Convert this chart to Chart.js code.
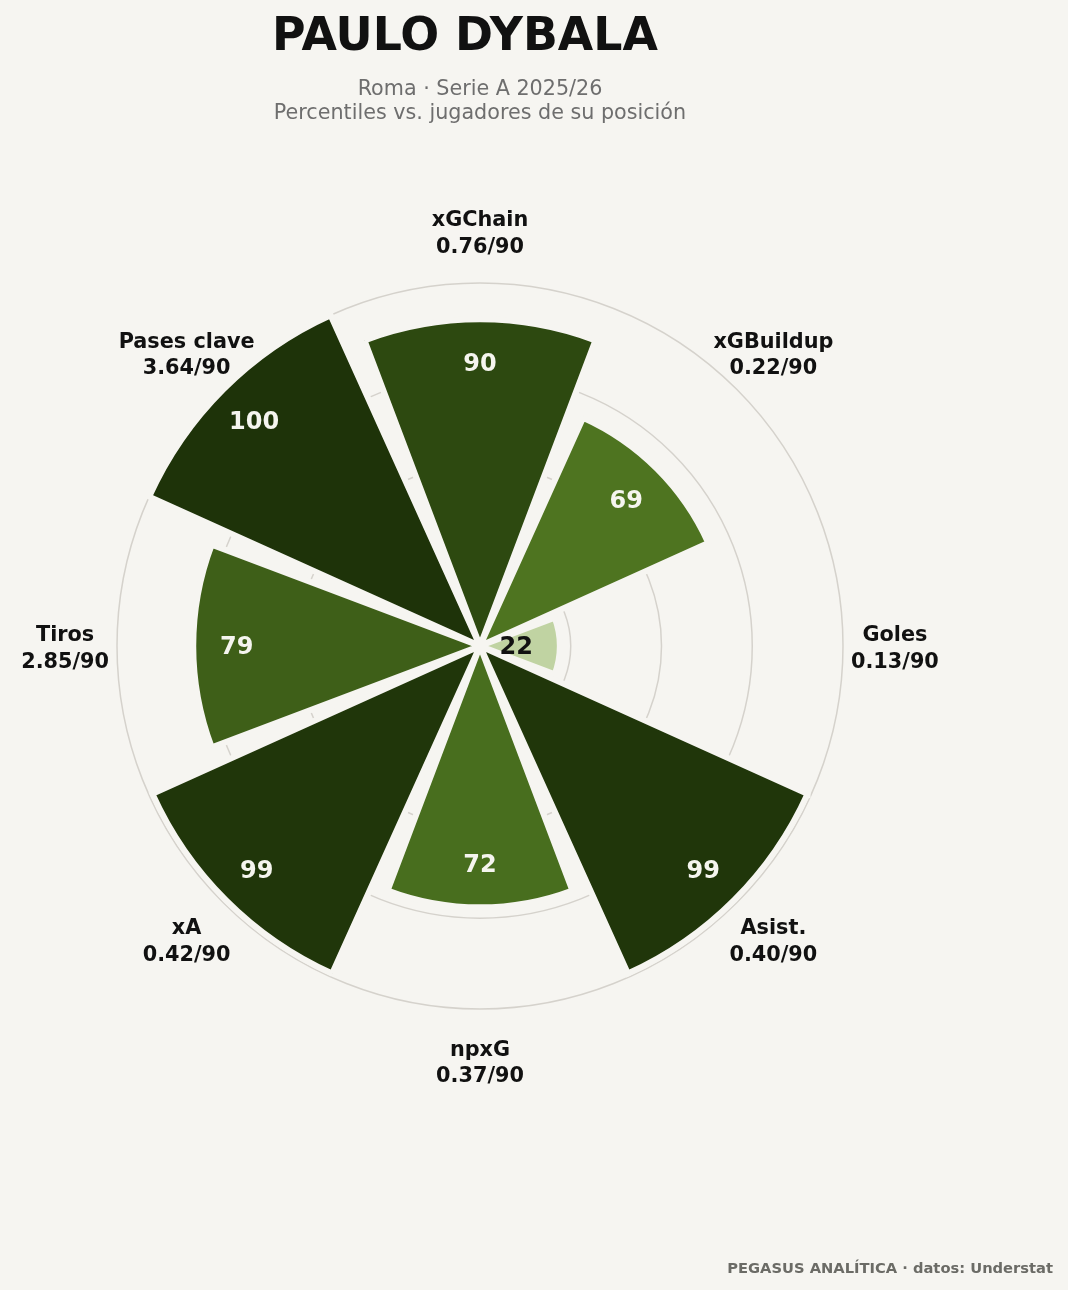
<!DOCTYPE html>
<html>
<head>
<meta charset="utf-8">
<script src="https://cdn.jsdelivr.net/npm/chart.js@4/dist/chart.umd.min.js"></script>
<style>
  body { margin: 0; background: #f6f5f1; font-family: "DejaVu Sans", sans-serif; }
  .wrap { position: relative; width: 1068px; height: 1290px; overflow: hidden; }
  canvas { position: absolute; left: 0; top: 0; }
  .title { position: absolute; left: 0; width: 930px; top: 12px; text-align: center;
    font-size: 45.8px; line-height: 45.8px; font-weight: bold; color: #111; }
  .subtitle { position: absolute; left: 0; width: 960px; top: 76px; text-align: center;
    font-size: 20.7px; line-height: 24px; color: #6e6e6e; }
  .footer { position: absolute; right: 15px; top: 1260px; font-size: 14.7px; line-height: 15px;
    font-weight: bold; color: #6b6b66; }
</style>
</head>
<body>
<div class="wrap">
  <canvas id="ct-pizza" width="1068" height="1290"></canvas>
  <div class="title">PAULO DYBALA</div>
  <div class="subtitle">Roma · Serie A 2025/26<br>Percentiles vs. jugadores de su posición</div>
  <div class="footer">PEGASUS ANALÍTICA · datos: Understat</div>
</div>
<script>
var metricNames = ["xGChain", "xGBuildup", "Goles", "Asist.", "npxG", "xA", "Tiros", "Pases clave"],
  percentiles = [90, 69, 22, 99, 72, 99, 79, 100],
  per90Values = [0.76, 0.22, 0.13, 0.4, 0.37, 0.42, 2.85, 3.64],
  gridTicks = [25, 50, 75, 100];

// slice colours, same order as metricNames
var sliceColors = ["#2d4910", "#4e7420", "#c0d3a2", "#20360a", "#486e1e", "#20360a", "#3e5f18", "#1e3309"];

const bgColor = "#f6f5f1";
const gapAngle = (3.6 * Math.PI) / 180;

// shrink every slice a bit so the wedges get an angular gap
const sliceGap = {
  id: "sliceGap",
  afterDatasetsUpdate: (chart) => {
    chart.getDatasetMeta(0).data.forEach((arc) => {
      arc.startAngle += gapAngle / 2;
      arc.endAngle -= gapAngle / 2;
    });
  },
};

const pizzaLabels = {
  id: "pizzaLabels",
  afterDatasetsDraw: (chart) => {
    const ctx = chart.ctx,
      scale = chart.scales.r,
      step = (2 * Math.PI) / metricNames.length;

    ctx.save();
    ctx.textAlign = "center";
    ctx.textBaseline = "alphabetic";

    metricNames.forEach((name, i) => {
      let angle = scale.getIndexAngle(i) + step / 2 - Math.PI / 2,
        cos = Math.cos(angle),
        sin = Math.sin(angle);

      // percentile inside the slice
      let rIn = scale.getDistanceFromCenterForValue(percentiles[i] - 12);
      ctx.font = "bold 24px 'DejaVu Sans'";
      ctx.fillStyle = percentiles[i] < 40 ? "#111111" : "#f5f5ef";
      ctx.fillText(String(percentiles[i]), scale.xCenter + rIn * cos, scale.yCenter + rIn * sin + 8.4);

      // metric name and per 90 value outside
      let rOut = scale.getDistanceFromCenterForValue(114.3),
        x = scale.xCenter + rOut * cos,
        y = scale.yCenter + rOut * sin;
      ctx.font = "bold 20.8px 'DejaVu Sans'";
      ctx.fillStyle = "#111111";
      ctx.fillText(name, x, y - 5);
      ctx.fillText(per90Values[i].toFixed(2) + "/90", x, y + 21.5);
    });
    ctx.restore();
  },
};

const pizzaChart = new Chart(document.getElementById("ct-pizza"), {
  type: "polarArea",
  data: {
    labels: metricNames,
    datasets: [
      {
        data: percentiles,
        backgroundColor: sliceColors,
        borderColor: bgColor,
        borderWidth: 6,
        borderJoinStyle: "miter",
      },
    ],
  },
  options: {
    responsive: false,
    animation: false,
    events: [],
    layout: {
      padding: { left: 117, right: 225, top: 283, bottom: 281 },
    },
    scales: {
      r: {
        min: 0,
        max: 100,
        startAngle: -22.5,
        afterBuildTicks: (axis) => {
          axis.ticks = [0].concat(gridTicks).map((v) => ({ value: v }));
        },
        ticks: { display: false },
        grid: { circular: true, color: "#d5d2cc", lineWidth: 1.5 },
        angleLines: { display: false },
        pointLabels: { display: false },
      },
    },
    plugins: {
      legend: { display: false },
      tooltip: { enabled: false },
    },
  },
  plugins: [sliceGap, pizzaLabels],
});
</script>
</body>
</html>
